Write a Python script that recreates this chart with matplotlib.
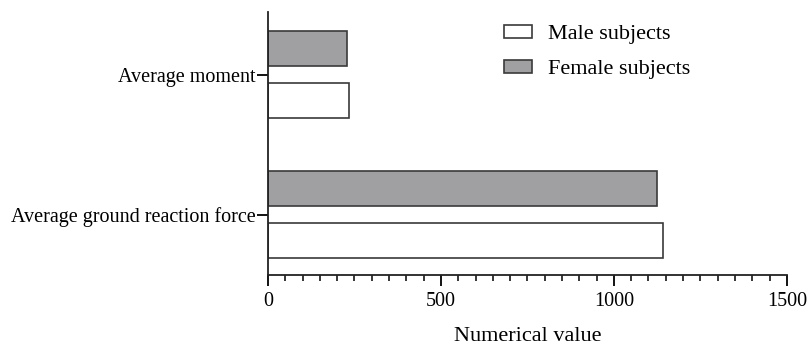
import matplotlib
matplotlib.use("Agg")
import matplotlib.pyplot as plt
from matplotlib.ticker import MultipleLocator
import numpy as np

categories = ["Average ground reaction force", "Average moment"]
male_values = [1143, 233]
female_values = [1126, 228]
series_names = ["Male subjects", "Female subjects"]

plt.rcParams["font.family"] = ["Liberation Serif", "DejaVu Serif"]

fig = plt.figure(figsize=(8.12, 3.47), dpi=100)
ax = fig.add_axes([0.330, 0.2075, 0.639, 0.758])

y = np.arange(len(categories))
h = 0.25
off = 0.186
edge = "#3a3a3a"
ax.barh(y - off, male_values, height=h, color="white", edgecolor=edge,
        linewidth=1.2, label=series_names[0])
ax.barh(y + off, female_values, height=h, color="#a0a0a2", edgecolor=edge,
        linewidth=1.2, label=series_names[1])

ax.set_xlim(0, 1500)
ax.set_ylim(-0.432, 1.447)
ax.set_yticks(y)
ax.set_yticklabels(categories, fontsize=14.5)
ax.set_xticks([0, 500, 1000, 1500])
ax.xaxis.set_minor_locator(MultipleLocator(50))
ax.tick_params(axis="x", which="major", length=8, width=1.3, labelsize=14.5, pad=4)
ax.tick_params(axis="x", which="minor", length=4, width=1.1)
ax.tick_params(axis="y", length=8, width=1.3, pad=1)
ax.set_xlabel("Numerical value", fontsize=16, labelpad=12)

for s in ["top", "right"]:
    ax.spines[s].set_visible(False)
for s in ["left", "bottom"]:
    ax.spines[s].set_linewidth(1.3)
    ax.spines[s].set_color("#222222")

leg = ax.legend(loc="upper left", bbox_to_anchor=(0.455, 0.952), frameon=False,
                fontsize=16, handlelength=1.27, handleheight=0.55,
                labelspacing=0.7, handletextpad=0.73, borderpad=0,
                borderaxespad=0)

fig.savefig("out.png", dpi=100)
